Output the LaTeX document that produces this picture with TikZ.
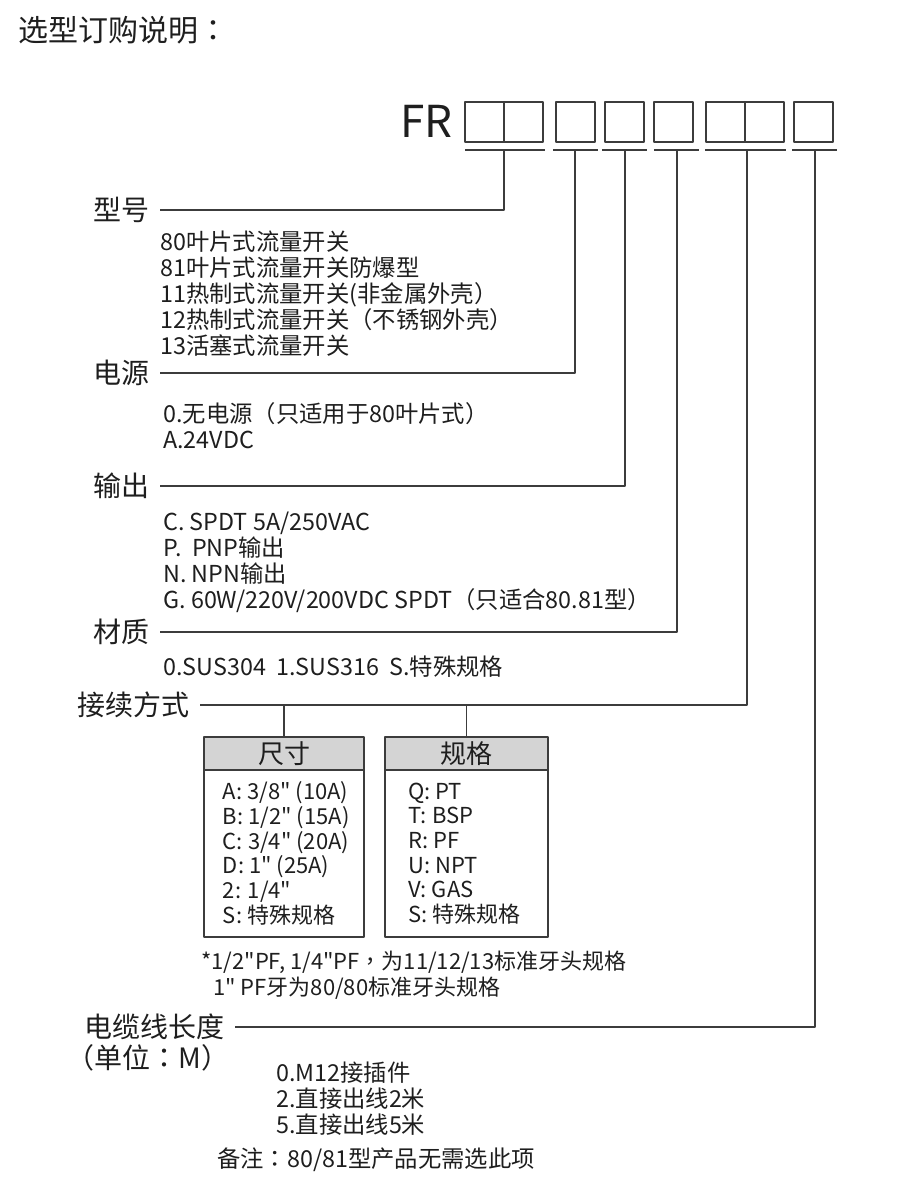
\documentclass[tikz,border=0pt]{standalone}
\usepackage{fontspec}
\newfontfamily\cjk{Noto Sans CJK SC}
\newfontfamily\cjkp{Noto Sans CJK TC}
\newcommand\qcolon{{\cjkp ：}}
\newcommand\qlp{{\cjkp （}}
\newcommand\qrp{{\cjkp ）}}
\newcommand\qcomma{{\cjkp ，}}
\usetikzlibrary{positioning}
\definecolor{inkgray}{RGB}{30,30,30}
\definecolor{rulegray}{RGB}{60,60,60}
\definecolor{headfill}{RGB}{212,212,212}
\tikzset{
  rule/.style={draw=rulegray, line width=1pt},
  heading/.style={anchor=east, inner xsep=7.5pt, inner ysep=0pt, text=inkgray, font=\fontsize{21}{24}\selectfont},
  choice/.style={anchor=west, align=left, inner sep=0pt, text=inkgray, font=\fontsize{17.5}{19.5}\selectfont},
  cell/.style={rule, anchor=north west, minimum width=29.25pt, minimum height=30pt, inner sep=0pt, outer sep=0pt},
  tabhead/.style={rule, fill=headfill, minimum height=24.75pt, inner sep=0pt, outer sep=0pt, text=inkgray, font=\fontsize{19.5}{22}\selectfont},
  tabbody/.style={rule, minimum height=125.25pt, inner sep=0pt, outer sep=0pt},
  tabtext/.style={anchor=west, align=left, inner sep=0pt, text=inkgray, font=\fontsize{16.5}{18.5}\selectfont},
}
\begin{document}
\cjk
\begin{tikzpicture}[x=0.75pt, y=-0.75pt, line join=round]
	\useasboundingbox (0,0) rectangle (920,1196);
	\node[anchor=west, inner sep=0pt, text=inkgray, font=\fontsize{22.5}{26}\selectfont] (title) at (18,30) {选型订购说明\qcolon};
	\node[anchor=east, inner sep=0pt, text=inkgray, font=\fontsize{33}{36}\selectfont] (fr) at (453,121) {FR};
	% code boxes and the bars under them
	\foreach \n/\x in {1/465,2/504,3/556,4/605,5/654,6/706,7/745,8/794}
		\node[cell] (c\n) at (\x,102) {};
	\foreach \n/\a/\b/\s in {1/465/545/504, 2/553/598/575, 3/602/647/625, 4/654/699/677, 5/705/786/747, 6/792/837/815}{
		\draw[rule] (\a,150) -- (\b,150);
		\coordinate (u\n) at (\s,150);
	}
	% headings
	\node[heading] (xh) at (160,210) {型号};
	\node[heading] (dy) at (160,373) {电源};
	\node[heading] (sc) at (160,486) {输出};
	\node[heading] (cz) at (160,632) {材质};
	\node[heading] (jx) at (200,705) {接续方式};
	\node[heading] (dl) at (235,1027) {电缆线长度};
	\node[heading, anchor=west, inner xsep=0pt] (dw) at (66,1058) {\qlp 单位\qcolon M\qrp};
	\draw[rule] (xh.east) -| (u1);
	\draw[rule] (dy.east) -| (u2);
	\draw[rule] (sc.east) -| (u3);
	\draw[rule] (cz.east) -| (u4);
	\draw[rule] (jx.east) -| (u5);
	\draw[rule] (dl.east) -| (u6);
	% choices
	\node[choice] (xhl) at (160,293.5) {80叶片式流量开关\\81叶片式流量开关防爆型\\11热制式流量开关(非金属外壳\qrp\\12热制式流量开关\qlp 不锈钢外壳\qrp\\13活塞式流量开关};
	\node[choice] (dyl) at (163,425.5) {0.无电源\qlp 只适用于80叶片式\qrp\\A.24VDC};
	\node[choice] (scl) at (163,562) {C. SPDT 5A/250VAC\\P.\ \ PNP输出\\N. NPN输出\\G. 60W/220V/200VDC SPDT\qlp 只适合80.81型\qrp};
	\node[choice] (czl) at (163,667) {0.SUS304\ \ 1.SUS316\ \ S.特殊规格};
	% connection tables
	\node[tabhead, minimum width=120pt] (cc) at (284,753.5) {尺寸};
	\node[tabbody, below=0pt of cc, minimum width=120pt] (ccb) {};
	\node[tabtext, right=14pt of ccb.west] (ccl) {A: 3/8" (10A)\\B: 1/2" (15A)\\C: 3/4" (20A)\\D: 1" (25A)\\2: 1/4"\\S: 特殊规格};
	\node[tabhead, minimum width=122.25pt] (gg) at (466.5,753.5) {规格};
	\node[tabbody, below=0pt of gg, minimum width=122.25pt] (ggb) {};
	\node[tabtext, right=17.25pt of ggb.west] (ggl) {Q: PT\\T: BSP\\R: PF\\U: NPT\\V: GAS\\S: 特殊规格};
	\draw[rule] (cc.north) -- (cc.north |- jx.east);
	\draw[rule] (gg.north) -- (gg.north |- jx.east);
	\node[choice, font=\fontsize{16.5}{19.5}\selectfont] (pf) at (201,975) {*1/2"PF, 1/4"PF\qcomma 为11/12/13标准牙头规格\\\hspace*{9pt}1" PF牙为80/80标准牙头规格};
	\node[choice] (dll) at (276,1099) {0.M12接插件\\2.直接出线2米\\5.直接出线5米};
	\node[choice] (bz) at (217,1160) {备注\qcolon 80/81型产品无需选此项};
\end{tikzpicture}
\end{document}
